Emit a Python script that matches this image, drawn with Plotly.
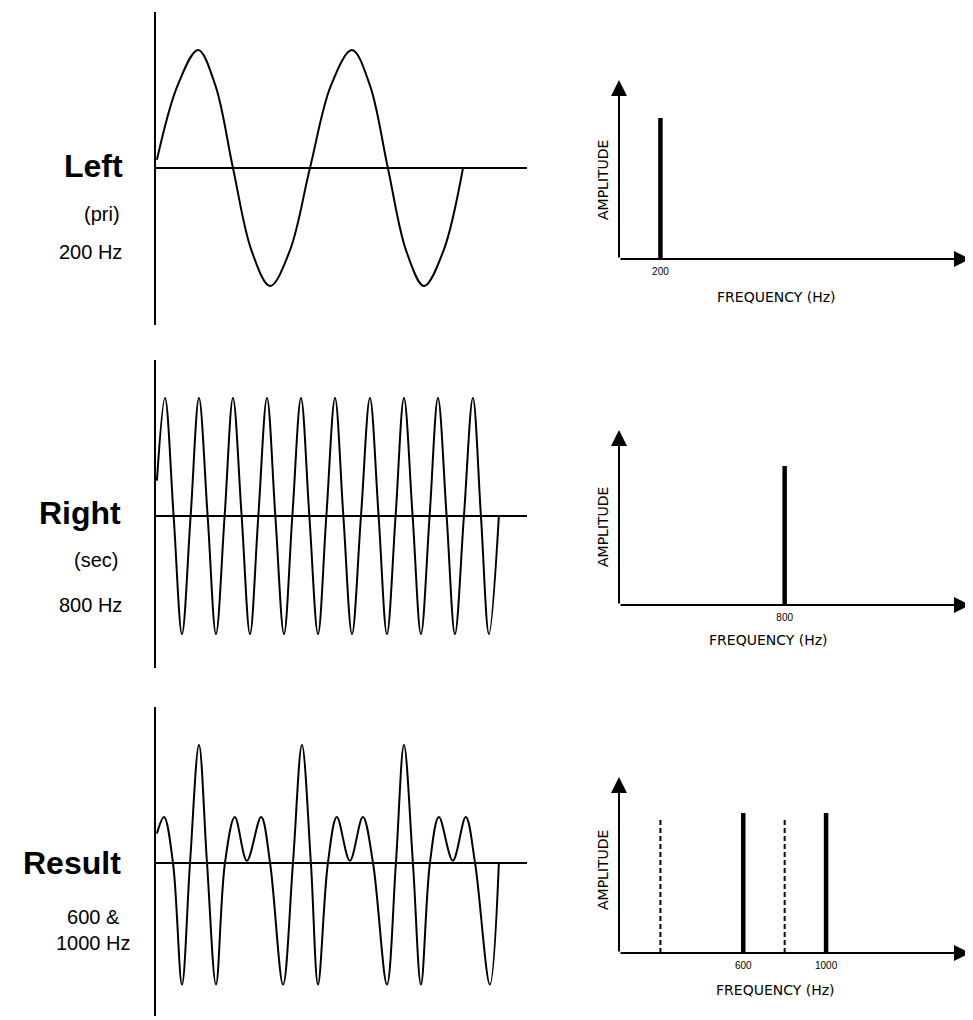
import plotly.graph_objects as go

# ---------------- data ----------------
# time in ms, amplitude normalised to the peak of the primary tone
left_t = [0.03, 0.70, 1.36, 1.92, 2.49, 3.09, 3.69, 4.33, 4.98, 5.66, 6.34,
          6.92, 7.50, 8.09, 8.67, 9.30, 9.93]
left_v = [0.07, 0.70, 1.00, 0.70, 0.00, -0.70, -1.00, -0.70, 0.00, 0.70, 1.00,
          0.70, 0.00, -0.70, -1.00, -0.70, 0.00]

right_t = [0.03, 0.29, 0.57, 0.84, 1.12, 1.39, 1.67, 1.94, 2.22, 2.49, 2.77,
           3.04, 3.31, 3.59, 3.86, 4.14, 4.41, 4.69, 4.96, 5.24, 5.51, 5.79,
           6.06, 6.34, 6.63, 6.92, 7.20, 7.47, 7.75, 8.02, 8.30, 8.57, 8.85,
           9.12, 9.40, 9.67, 9.96, 10.25, 10.51, 10.77, 11.09]
right_v = [0.30, 1.00, 0.00, -1.00, 0.00, 1.00, 0.00, -1.00, 0.00, 1.00, 0.00,
           -1.00, 0.00, 1.00, 0.00, -1.00, 0.00, 1.00, 0.00, -1.00, 0.00, 1.00,
           0.00, -1.00, 0.00, 1.00, 0.00, -1.00, 0.00, 1.00, 0.00, -1.00, 0.00,
           1.00, 0.00, -1.00, 0.00, 1.00, 0.00, -1.00, 0.00]

result_t = [0.03, 0.26, 0.55, 0.84, 1.10, 1.39, 1.65, 1.94, 2.23, 2.55, 2.94,
            3.40, 3.69, 4.11, 4.43, 4.72, 5.01, 5.24, 5.56, 5.85, 6.27, 6.69,
            7.02, 7.47, 7.76, 8.02, 8.31, 8.57, 8.86, 9.15, 9.60, 10.02, 10.32,
            10.80, 11.09]
result_v = [0.25, 0.39, 0.00, -1.03, 0.00, 1.00, 0.00, -1.03, 0.00, 0.39, 0.02,
            0.39, 0.00, -1.03, 0.00, 1.00, 0.00, -1.03, 0.00, 0.39, 0.02, 0.39,
            0.00, -1.03, 0.00, 1.00, 0.00, -1.03, 0.00, 0.39, 0.02, 0.39, 0.00,
            -1.03, 0.00]

# spectra
left_freq, left_amp = [200], [1.00]
right_freq, right_amp = [800], [1.00]
result_freq, result_amp = [600, 1000], [1.00, 1.00]
input_freq, input_amp = [200, 800], [0.965, 0.965]     # dashed reference lines

signal_names = ["Left", "Right", "Result"]
signal_notes = ["(pri)", "(sec)", ""]
signal_freqs = ["200 Hz", "800 Hz", "600 &amp;<br>1000 Hz"]
tick_vals = [[200], [800], [600, 1000]]
tick_text = [["200"], ["800"], ["600", "1000"]]

# ---------------- layout helpers ----------------
OFF = 8                      # default page margin of the html body
W, H = 973 - OFF, 1020 - OFF
FONT = "Liberation Sans, Arial, Helvetica, sans-serif"
LFONT = "DejaVu Sans, Liberation Sans, sans-serif"


def px(x):
    return (x - OFF) / W


def py(y):
    return 1 - (y - OFF) / H


def stems(freqs, amps):
    xs, ys = [], []
    for f, a in zip(freqs, amps):
        xs += [f, f, None]
        ys += [0, a, None]
    return xs, ys


fig = go.Figure()

wave_line = dict(color="black", width=2, shape="spline", smoothing=1.0)
fig.add_trace(go.Scatter(x=left_t, y=left_v, mode="lines", line=wave_line,
                         xaxis="x", yaxis="y", showlegend=False))
fig.add_trace(go.Scatter(x=right_t, y=right_v, mode="lines", line=wave_line,
                         xaxis="x2", yaxis="y2", showlegend=False))
fig.add_trace(go.Scatter(x=result_t, y=result_v, mode="lines", line=wave_line,
                         xaxis="x3", yaxis="y3", showlegend=False))

sx, sy = stems(left_freq, left_amp)
fig.add_trace(go.Scatter(x=sx, y=sy, mode="lines", line=dict(color="black", width=4.5),
                         xaxis="x4", yaxis="y4", showlegend=False))
sx, sy = stems(right_freq, right_amp)
fig.add_trace(go.Scatter(x=sx, y=sy, mode="lines", line=dict(color="black", width=4.5),
                         xaxis="x5", yaxis="y5", showlegend=False))
sx, sy = stems(input_freq, input_amp)
fig.add_trace(go.Scatter(x=sx, y=sy, mode="lines",
                         line=dict(color="black", width=2, dash="5px,3px"),
                         xaxis="x6", yaxis="y6", showlegend=False))
sx, sy = stems(result_freq, result_amp)
fig.add_trace(go.Scatter(x=sx, y=sy, mode="lines", line=dict(color="black", width=4.5),
                         xaxis="x6", yaxis="y6", showlegend=False))

# time-domain panels: (top, zero, bottom) pixel rows
wave_rows = [(12, 168, 325), (360, 516, 668), (707, 863, 1016)]
UNIT = 118.0
layout = dict(width=W, height=H, margin=dict(l=0, r=0, t=0, b=0),
              paper_bgcolor="white", plot_bgcolor="white", showlegend=False,
              font=dict(family=FONT, color="black"))

for i, (top, zero, bot) in enumerate(wave_rows):
    xa = "xaxis" if i == 0 else f"xaxis{i + 1}"
    ya = "yaxis" if i == 0 else f"yaxis{i + 1}"
    anchor_x = "x" if i == 0 else f"x{i + 1}"
    anchor_y = "y" if i == 0 else f"y{i + 1}"
    layout[xa] = dict(domain=[px(156), px(527)], range=[0, 12], anchor=anchor_y,
                      showline=False, showgrid=False, zeroline=False,
                      showticklabels=False, ticks="", fixedrange=True)
    layout[ya] = dict(domain=[py(bot), py(top)],
                      range=[-(bot - zero) / UNIT, (zero - top) / UNIT],
                      anchor=anchor_x, showline=True, linecolor="black", linewidth=2,
                      zeroline=True, zerolinecolor="black", zerolinewidth=2,
                      showgrid=False, showticklabels=False, ticks="", fixedrange=True)

# spectrum panels: (arrow tip row, axis row, unit height in px)
spec_rows = [(80, 259, 141.0), (430, 605, 139.0), (777, 953, 140.0)]
F_MAX = 1695
annotations = []
for j, (tip, base, unit) in enumerate(spec_rows):
    k = j + 4
    ymax = (base - tip) / unit
    layout[f"xaxis{k}"] = dict(domain=[px(619), px(970)], range=[0, F_MAX],
                               anchor=f"y{k}", showline=False, showgrid=False,
                               zeroline=False, tickvals=tick_vals[j],
                               ticktext=tick_text[j], ticks="",
                               tickfont=dict(size=10, family=FONT),
                               ticklabelstandoff=5, fixedrange=True)
    layout[f"yaxis{k}"] = dict(domain=[py(base), py(tip)], range=[0, ymax],
                               anchor=f"x{k}", showline=False, showgrid=False,
                               zeroline=False, showticklabels=False, ticks="",
                               fixedrange=True)
    # axis lines with arrowheads
    annotations.append(dict(xref=f"x{k}", yref=f"y{k}", axref=f"x{k}", ayref=f"y{k}",
                            x=F_MAX, y=0, ax=0, ay=0, text="", showarrow=True,
                            arrowhead=2, arrowsize=1.6, arrowwidth=2,
                            arrowcolor="black"))
    annotations.append(dict(xref=f"x{k}", yref=f"y{k}", axref=f"x{k}", ayref=f"y{k}",
                            x=0, y=ymax, ax=0, ay=0, text="", showarrow=True,
                            arrowhead=2, arrowsize=1.6, arrowwidth=2,
                            arrowcolor="black"))

# axis titles of the spectra
amp_rows = [180, 527, 870]
freq_title = [(776, 297), (768, 640), (775, 990)]
for j in range(3):
    annotations.append(dict(xref="paper", yref="paper", x=px(603), y=py(amp_rows[j]),
                            text="AMPLITUDE", textangle=-90, showarrow=False,
                            xanchor="center", yanchor="middle",
                            font=dict(size=14, family=LFONT)))
    annotations.append(dict(xref="paper", yref="paper", x=px(freq_title[j][0]),
                            y=py(freq_title[j][1]), text="FREQUENCY (Hz)",
                            showarrow=False, xanchor="center", yanchor="middle",
                            font=dict(size=14, family=LFONT)))

# signal labels on the left
name_pos = [(93.5, 166), (80, 513), (71.5, 863)]
note_pos = [(102, 214), (95.5, 560), None]
freq_pos = [(90, 252), (90, 605), (93, 930)]
for j in range(3):
    annotations.append(dict(xref="paper", yref="paper", x=px(name_pos[j][0]),
                            y=py(name_pos[j][1]), text=f"<b>{signal_names[j]}</b>",
                            showarrow=False, xanchor="center", yanchor="middle",
                            font=dict(size=32, family=FONT)))
    if signal_notes[j]:
        annotations.append(dict(xref="paper", yref="paper", x=px(note_pos[j][0]),
                                y=py(note_pos[j][1]), text=signal_notes[j],
                                showarrow=False, xanchor="center", yanchor="middle",
                                font=dict(size=20, family=FONT)))
    annotations.append(dict(xref="paper", yref="paper", x=px(freq_pos[j][0]),
                            y=py(freq_pos[j][1]), text=signal_freqs[j],
                            showarrow=False, xanchor="center", yanchor="middle",
                            align="center",
                            font=dict(size=20, family=FONT)))

layout["annotations"] = annotations
fig.update_layout(**layout)
fig.write_html("out.html")
